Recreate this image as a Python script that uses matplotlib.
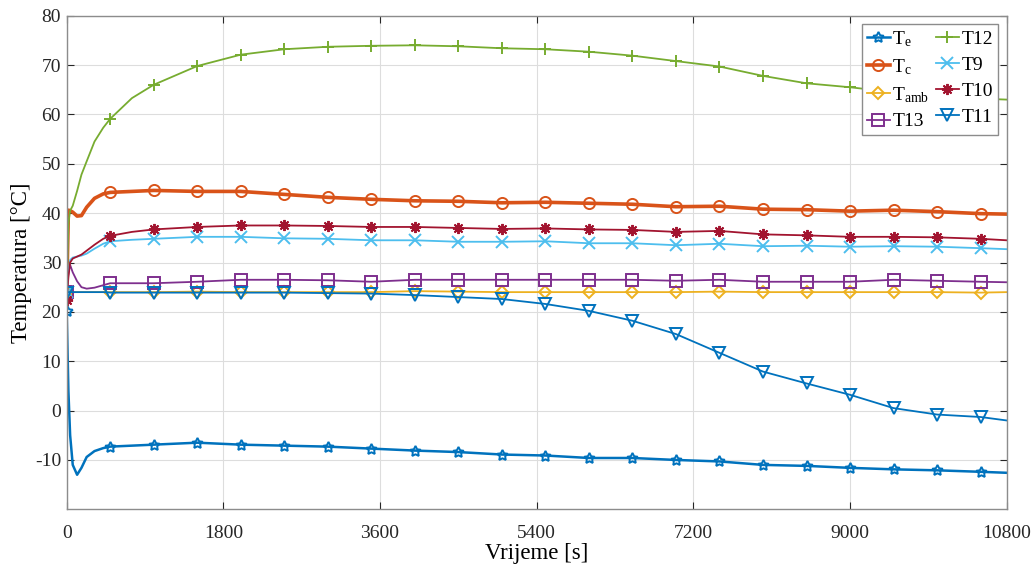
import matplotlib
matplotlib.use('Agg')
import matplotlib.pyplot as plt

plt.rcParams['font.family'] = ['Liberation Serif', 'DejaVu Serif']
plt.rcParams['mathtext.fontset'] = 'custom'
plt.rcParams['mathtext.rm'] = 'Liberation Serif'
plt.rcParams['axes.unicode_minus'] = False

# sample times [s]
time = [0, 20, 40, 70, 120, 170, 230, 320, 420, 500, 750,
        1000, 1500, 2000, 2500, 3000, 3500, 4000, 4500, 5000, 5500,
        6000, 6500, 7000, 7500, 8000, 8500, 9000, 9500, 10000, 10500, 10800]

t_e = [20.2, 4.0, -5.0, -11.0, -13.0, -11.6, -9.4, -8.2, -7.6, -7.3, -7.1,
       -6.9, -6.5, -6.9, -7.1, -7.3, -7.7, -8.1, -8.4, -8.9, -9.1,
       -9.6, -9.6, -10.0, -10.3, -11.0, -11.2, -11.6, -11.9, -12.1, -12.4, -12.6]
t_c = [23.5, 40.6, 40.5, 40.2, 39.4, 39.5, 41.2, 43.0, 43.9, 44.2, 44.4,
       44.6, 44.4, 44.4, 43.8, 43.2, 42.8, 42.5, 42.4, 42.1, 42.2,
       42.0, 41.8, 41.3, 41.4, 40.8, 40.7, 40.4, 40.6, 40.3, 39.9, 39.8]
t_amb = [23.8, 24.0, 24.0, 24.0, 24.0, 24.0, 24.0, 24.0, 24.0, 24.0, 24.0,
         24.0, 24.1, 24.0, 24.0, 24.0, 24.0, 24.2, 24.1, 24.0, 24.0,
         24.0, 24.0, 24.0, 24.1, 24.0, 24.0, 24.0, 24.0, 24.0, 23.9, 24.0]
t13 = [24.0, 28.0, 29.5, 28.0, 26.2, 25.0, 24.7, 24.9, 25.4, 25.8, 25.8,
       25.8, 26.1, 26.5, 26.5, 26.4, 26.1, 26.5, 26.5, 26.5, 26.5,
       26.5, 26.5, 26.3, 26.5, 26.1, 26.1, 26.1, 26.5, 26.3, 26.1, 26.0]
t12 = [24.0, 38.0, 40.5, 41.5, 44.5, 47.8, 50.5, 54.5, 57.3, 59.1, 63.3,
       66.0, 69.8, 72.1, 73.2, 73.7, 73.9, 74.0, 73.8, 73.4, 73.2,
       72.7, 71.9, 70.8, 69.7, 67.8, 66.3, 65.5, 64.5, 63.8, 63.2, 63.0]
t9 = [24.0, 28.0, 30.5, 31.0, 31.2, 31.4, 31.8, 32.8, 33.8, 34.3, 34.6,
      34.8, 35.2, 35.2, 34.9, 34.8, 34.5, 34.5, 34.2, 34.2, 34.3,
      33.9, 33.9, 33.5, 33.8, 33.3, 33.4, 33.2, 33.3, 33.2, 32.9, 32.7]
t10 = [22.4, 27.0, 30.0, 30.8, 31.2, 31.6, 32.4, 33.6, 34.8, 35.4, 36.2,
       36.7, 37.2, 37.5, 37.5, 37.4, 37.2, 37.2, 37.0, 36.8, 36.9,
       36.7, 36.6, 36.2, 36.4, 35.7, 35.5, 35.2, 35.2, 35.1, 34.8, 34.5]
t11 = [23.9, 24.0, 24.0, 24.0, 24.0, 24.0, 24.0, 24.0, 24.0, 23.9, 23.9,
       23.9, 23.9, 23.9, 23.9, 23.8, 23.7, 23.4, 23.0, 22.6, 21.6,
       20.2, 18.2, 15.5, 11.7, 7.9, 5.5, 3.2, 0.5, -0.8, -1.3, -2.0]

xticks = [0, 1800, 3600, 5400, 7200, 9000, 10800]
yticks = [-10, 0, 10, 20, 30, 40, 50, 60, 70, 80]

# markers every 500 s
marks = [i for i, t in enumerate(time) if t % 500 == 0]

fig = plt.figure(figsize=(10.35, 5.68), dpi=100)
ax = fig.add_axes([0.0644, 0.1033, 0.9083, 0.8691])

series = [
    (t_e, r'$\mathregular{T_e}$', '#0072BD', (5, 1, 0), 1.8),
    (t_c, r'$\mathregular{T_c}$', '#D95319', 'o', 2.6),
    (t_amb, r'$\mathregular{T_{amb}}$', '#EDB120', 'D', 1.3),
    (t13, 'T13', '#7E2F8E', 's', 1.3),
    (t12, 'T12', '#77AC30', '+', 1.3),
    (t9, 'T9', '#4DBEEE', 'x', 1.3),
    (t10, 'T10', '#A2142F', (8, 2, 0), 1.3),
    (t11, 'T11', '#0072BD', 'v', 1.3),
]

for vals, lab, col, mk, lw in series:
    ms = 6 if mk == 'D' else 8
    ax.plot(time, vals, color=col, lw=lw, marker=mk, markevery=marks,
            ms=ms, mfc='none', mew=1.4, label=lab)

ax.set_xlim(0, 10800)
ax.set_ylim(-20, 80)
ax.set_xticks(xticks)
ax.set_yticks(yticks)
ax.grid(True, color='#dddddd', lw=0.8)
ax.tick_params(direction='in', top=True, right=True, labelsize=14, colors='#262626',
               length=5, pad=4)
ax.tick_params(axis='x', pad=11)
for s in ax.spines.values():
    s.set_color('#8c8c8c')
    s.set_linewidth(1.0)

ax.set_xlabel('Vrijeme [s]', fontsize=16.5, labelpad=1)
ax.set_ylabel('Temperatura [°C]', fontsize=16.5, labelpad=2)

ax.legend(loc='upper right', ncol=2, fontsize=14, frameon=True, fancybox=False,
          edgecolor='#8c8c8c', handlelength=1.15, handletextpad=0.15,
          columnspacing=0.35, labelspacing=0.42, borderpad=0.25,
          borderaxespad=0.45, framealpha=1)

fig.savefig('out.png', dpi=100)
